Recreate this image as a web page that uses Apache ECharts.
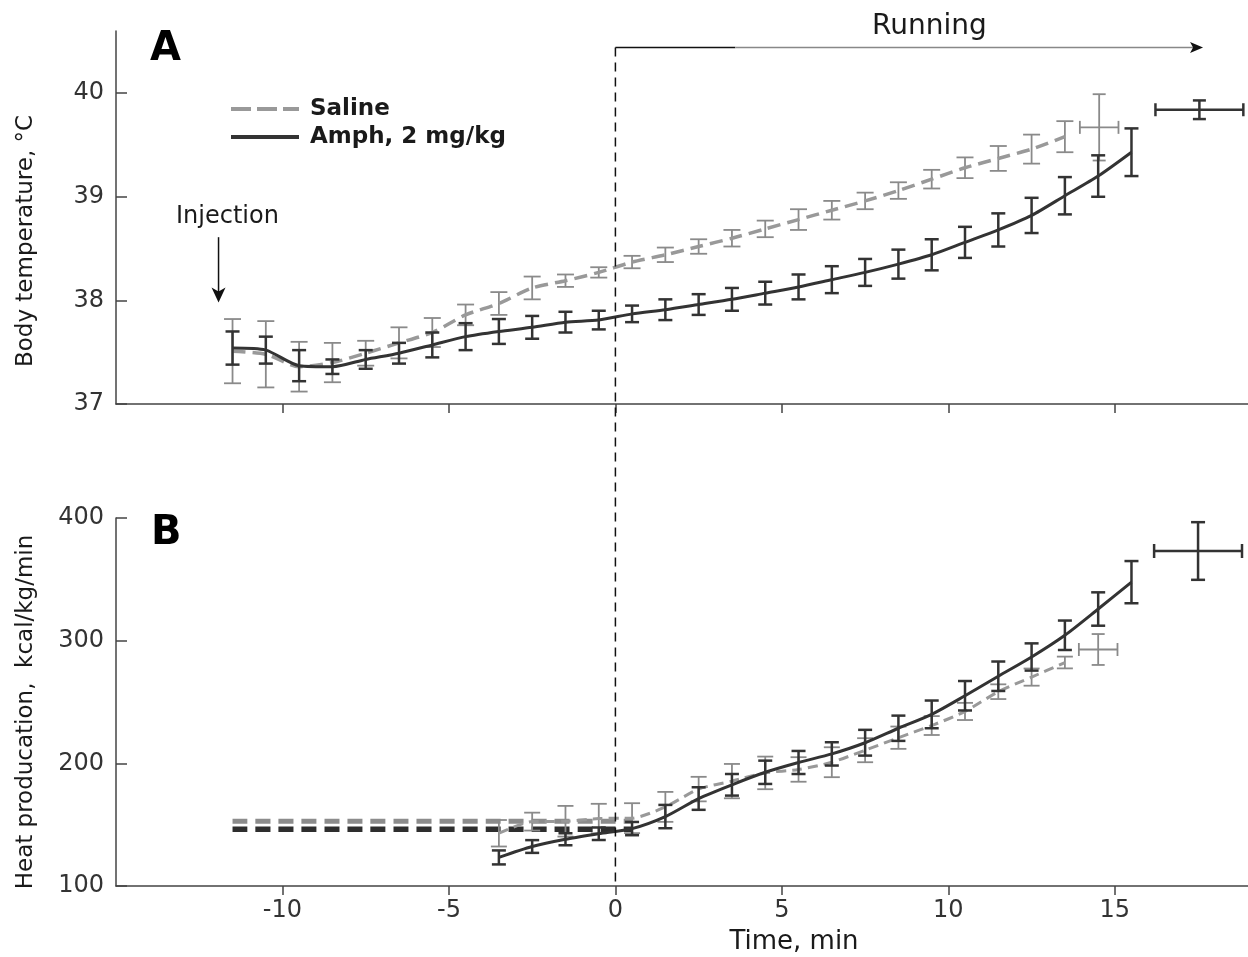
<!DOCTYPE html>
<html><head><meta charset="utf-8">
<script src="https://cdn.jsdelivr.net/npm/echarts@6/dist/echarts.min.js"></script>
<style>html,body{margin:0;padding:0;background:#fff}#c{width:1248px;height:957px}</style>
</head><body><div id="c"></div>
<script>
// ---------- data ----------
const X_TICKS = [-10, -5, 0, 5, 10, 15];
const TEMP_TICKS = [37, 38, 39, 40];
const HEAT_TICKS = [100, 200, 300, 400];

// Panel A: body temperature (°C)
const TIME_A = [-11.5,-10.5,-9.5,-8.5,-7.5,-6.5,-5.5,-4.5,-3.5,-2.5,-1.5,-0.5,0.5,1.5,2.5,3.5,4.5,5.5,6.5,7.5,8.5,9.5,10.5,11.5,12.5,13.5,14.5,15.5];
const SALINE_TEMP = [37.51,37.48,37.36,37.40,37.49,37.59,37.69,37.86,37.97,38.12,38.19,38.27,38.37,38.44,38.52,38.60,38.69,38.78,38.87,38.96,39.06,39.17,39.28,39.37,39.46,39.58];
const SALINE_TEMP_ERR = [0.31,0.32,0.24,0.19,0.12,0.15,0.14,0.10,0.11,0.11,0.06,0.05,0.06,0.07,0.07,0.08,0.08,0.10,0.09,0.08,0.08,0.09,0.10,0.12,0.14,0.15];
const AMPH_TEMP = [37.54,37.52,37.37,37.36,37.43,37.49,37.57,37.65,37.70,37.74,37.79,37.81,37.87,37.91,37.96,38.01,38.07,38.13,38.20,38.27,38.35,38.44,38.56,38.68,38.82,39.01,39.20,39.43];
const AMPH_TEMP_ERR = [0.16,0.13,0.15,0.07,0.09,0.10,0.12,0.13,0.12,0.11,0.10,0.09,0.08,0.10,0.10,0.11,0.11,0.12,0.13,0.13,0.14,0.15,0.15,0.16,0.17,0.18,0.20,0.23];
// end-of-run points: [time, value, value error, time error]
const SALINE_TEMP_END = [14.53, 39.67, 0.32, 0.58];
const AMPH_TEMP_END = [17.54, 39.84, 0.09, 1.32];

// Panel B: heat production (kcal/kg/min)
const TIME_B = [-3.5,-2.5,-1.5,-0.5,0.5,1.5,2.5,3.5,4.5,5.5,6.5,7.5,8.5,9.5,10.5,11.5,12.5,13.5,14.5,15.5];
const SALINE_HEAT = [143.0,152.5,152.8,155.0,155.3,164.5,179.0,185.5,192.2,195.0,200.9,210.7,220.9,230.8,242.3,258.4,270.3,282.2];
const SALINE_HEAT_ERR = [10.8,7.3,12.5,12.0,12.2,12.2,10.0,14.0,13.3,10.0,12.2,9.8,9.1,7.7,7.0,6.0,7.0,4.8];
const AMPH_HEAT = [123.3,132.2,138.1,142.6,146.8,156.6,171.3,182.5,192.7,200.7,207.7,216.8,228.6,239.9,255.1,271.0,286.7,304.4,325.8,347.7];
const AMPH_HEAT_ERR = [5.7,5.2,4.9,5.1,5.4,9.5,9.2,8.8,9.5,9.4,9.5,10.5,10.3,11.3,12.0,12.0,11.1,12.0,13.6,17.2];
const SALINE_HEAT_END = [14.5, 292.8, 12.6, 0.58];
const AMPH_HEAT_END = [17.5, 373.1, 23.5, 1.32];
// resting baselines
const BASELINE_TIME = [-11.5, 0.5];
const SALINE_BASELINE = 152.8;
const AMPH_BASELINE = 146.3;

// annotations (data coordinates)
const RUN_START = 0, RUN_SPLIT = 3.6, RUN_END = 17.65, RUN_LEVEL = 40.44;
const INJECTION_TIME = -11.92, INJECTION_FROM = 38.61, INJECTION_TO = 37.98;

// ---------- styling ----------
const FONT = 'DejaVu Sans';
const AXIS_COLOR = '#444';
const GRAY = '#999';
const GRAY_BAR = '#8a8a8a';
const DARK = '#333';

function errRender(color, width, capHalf) {
  return function (params, api) {
    const x = api.value(0), y = api.value(1), ey = api.value(2);
    const ex = api.value(3);
    const t = api.coord([x, y + ey]);
    const b = api.coord([x, y - ey]);
    const st = () => ({ stroke: color, lineWidth: width, fill: null });
    const ch = [
      { type: 'line', shape: { x1: t[0], y1: t[1], x2: b[0], y2: b[1] }, style: st() },
      { type: 'line', shape: { x1: t[0] - capHalf, y1: t[1], x2: t[0] + capHalf, y2: t[1] }, style: st() },
      { type: 'line', shape: { x1: b[0] - capHalf, y1: b[1], x2: b[0] + capHalf, y2: b[1] }, style: st() }
    ];
    if (ex > 0) {
      const l = api.coord([x - ex, y]);
      const r = api.coord([x + ex, y]);
      ch.push({ type: 'line', shape: { x1: l[0], y1: l[1], x2: r[0], y2: r[1] }, style: st() });
      ch.push({ type: 'line', shape: { x1: l[0], y1: l[1] - capHalf, x2: l[0], y2: l[1] + capHalf }, style: st() });
      ch.push({ type: 'line', shape: { x1: r[0], y1: r[1] - capHalf, x2: r[0], y2: r[1] + capHalf }, style: st() });
    }
    return { type: 'group', children: ch };
  };
}

function errSeries(g, data, color, width, capHalf, z) {
  return { type: 'custom', coordinateSystem: 'cartesian2d', xAxisIndex: g, yAxisIndex: g,
    renderItem: errRender(color, width, capHalf), data: data, encode: { x: 0, y: 1 }, silent: true, z: z };
}
function lineSeries(g, name, xs, ys, color, width, type, z) {
  return { type: 'line', name: name, xAxisIndex: g, yAxisIndex: g, symbol: 'none', smooth: 0.25,
    data: ys.map((v, i) => [xs[i], v]), lineStyle: { color: color, width: width, type: type },
    itemStyle: { color: color }, silent: true, z: z };
}

const xAxisBase = (g, showLabels) => ({
  gridIndex: g, type: 'value', min: -15, max: 19, interval: 5,
  axisLine: { show: true, onZero: false, lineStyle: { color: AXIS_COLOR, width: 1.5 } },
  axisTick: { show: true, inside: false, length: 9, customValues: X_TICKS, lineStyle: { color: AXIS_COLOR, width: 1.5 } },
  axisLabel: { show: showLabels, customValues: X_TICKS, margin: 13, fontFamily: FONT, fontSize: 24, color: '#333' },
  splitLine: { show: false }
});
const yAxisBase = (g, min, max, interval, ticks) => ({
  gridIndex: g, type: 'value', min: min, max: max, interval: interval,
  axisLine: { show: true, onZero: false, lineStyle: { color: AXIS_COLOR, width: 1.5 } },
  axisTick: { show: true, inside: true, length: 11, customValues: ticks, lineStyle: { color: AXIS_COLOR, width: 1.5 } },
  axisLabel: { show: true, customValues: ticks, margin: 12, fontFamily: FONT, fontSize: 24, color: '#333' },
  splitLine: { show: false }
});

const option = {
  animation: false,
  backgroundColor: '#fff',
  grid: [
    { left: 116, top: 31, width: 1141, height: 373 },
    { left: 116, top: 518, width: 1141, height: 368 }
  ],
  xAxis: [xAxisBase(0, false), xAxisBase(1, true)],
  yAxis: [yAxisBase(0, 37, 40.6, 1, TEMP_TICKS), yAxisBase(1, 100, 400, 100, HEAT_TICKS)],
  legend: {
    show: true, orient: 'vertical', left: 224, top: 92, itemWidth: 68, itemHeight: 14, itemGap: 4,
    selectedMode: false,
    itemStyle: { opacity: 0 },
    textStyle: { fontFamily: FONT, fontWeight: 'bold', fontSize: 23, color: '#1a1a1a', lineHeight: 24, padding: [0, 0, 0, 6] },
    data: [
      { name: 'Saline', itemStyle: { opacity: 0 }, lineStyle: { type: [20, 6], width: 4, color: GRAY } },
      { name: 'Amph, 2 mg/kg', itemStyle: { opacity: 0 }, lineStyle: { type: 'solid', width: 4, color: DARK } }
    ]
  },
  series: [
    // Panel A
    errSeries(0, SALINE_TEMP.map((v, i) => [TIME_A[i], v, SALINE_TEMP_ERR[i]]), GRAY_BAR, 1.8, 8.5, 2),
    lineSeries(0, 'Saline', TIME_A, SALINE_TEMP, GRAY, 3.5, [13, 7], 3),
    errSeries(0, [SALINE_TEMP_END], GRAY_BAR, 1.8, 6.5, 2),
    errSeries(0, AMPH_TEMP.map((v, i) => [TIME_A[i], v, AMPH_TEMP_ERR[i]]), DARK, 2.5, 7, 4),
    lineSeries(0, 'Amph, 2 mg/kg', TIME_A, AMPH_TEMP, DARK, 3, 'solid', 5),
    errSeries(0, [AMPH_TEMP_END], DARK, 2.5, 6.5, 4),
    // Panel B
    lineSeries(1, 'Saline baseline', BASELINE_TIME, [SALINE_BASELINE, SALINE_BASELINE], '#8c8c8c', 5, [15, 8], 1),
    lineSeries(1, 'Amph baseline', BASELINE_TIME, [AMPH_BASELINE, AMPH_BASELINE], '#2e2e2e', 5.5, [15, 8], 1),
    errSeries(1, SALINE_HEAT.map((v, i) => [TIME_B[i], v, SALINE_HEAT_ERR[i]]), GRAY_BAR, 1.8, 8, 2),
    lineSeries(1, 'Saline', TIME_B, SALINE_HEAT, GRAY, 3, [10, 6], 3),
    errSeries(1, [SALINE_HEAT_END], GRAY_BAR, 1.8, 6.5, 2),
    errSeries(1, AMPH_HEAT.map((v, i) => [TIME_B[i], v, AMPH_HEAT_ERR[i]]), DARK, 2.5, 7, 4),
    lineSeries(1, 'Amph, 2 mg/kg', TIME_B, AMPH_HEAT, DARK, 3, 'solid', 5),
    errSeries(1, [AMPH_HEAT_END], DARK, 2.5, 7, 4)
  ]
};

const chart = echarts.init(document.getElementById('c'), null, { renderer: 'canvas' });
chart.setOption(option);

const px = (g, x, y) => chart.convertToPixel({ gridIndex: g }, [x, y]);
const runA = px(0, RUN_START, RUN_LEVEL);
const runS = px(0, RUN_SPLIT, RUN_LEVEL);
const runE = px(0, RUN_END, RUN_LEVEL);
const vBot = px(1, RUN_START, HEAT_TICKS[0]);
const injA = px(0, INJECTION_TIME, INJECTION_FROM);
const injB = px(0, INJECTION_TIME, INJECTION_TO);

const txt = (text, x, y, size, opts) => Object.assign({
  type: 'text', x: x, y: y, z: 20,
  style: Object.assign({ text: text, fontFamily: FONT, fontSize: size, fill: '#1a1a1a', align: 'left', verticalAlign: 'middle' }, (opts && opts.style) || {})
}, opts && opts.el ? opts.el : {});

chart.setOption({
  graphic: [
    { type: 'line', z: 10, shape: { x1: runA[0], y1: runA[1], x2: vBot[0], y2: vBot[1] },
      style: { stroke: '#111', lineWidth: 1.5, lineDash: [9, 6] } },
    { type: 'line', z: 10, shape: { x1: runA[0], y1: runA[1], x2: runS[0], y2: runS[1] },
      style: { stroke: '#111', lineWidth: 1.5 } },
    { type: 'line', z: 10, shape: { x1: runS[0], y1: runS[1], x2: runE[0] - 10, y2: runE[1] },
      style: { stroke: '#888', lineWidth: 1.5 } },
    { type: 'polygon', z: 10, shape: { points: [[runE[0], runE[1]], [runE[0] - 13, runE[1] - 5.5], [runE[0] - 10, runE[1]], [runE[0] - 13, runE[1] + 5.5]] },
      style: { fill: '#111' } },
    { type: 'line', z: 10, shape: { x1: injA[0], y1: injA[1], x2: injB[0], y2: injB[1] - 10 },
      style: { stroke: '#111', lineWidth: 1.5 } },
    { type: 'polygon', z: 10, shape: { points: [[injB[0], injB[1]], [injB[0] - 7, injB[1] - 15], [injB[0], injB[1] - 11], [injB[0] + 7, injB[1] - 15]] },
      style: { fill: '#111' } },
    txt('A', 150, 50, 40, { style: { fontWeight: 'bold', fill: '#000' } }),
    txt('B', 151, 534, 40, { style: { fontWeight: 'bold', fill: '#000' } }),
    txt('Running', 872, 27, 28),
    txt('Injection', 176, 217, 24),
    txt('Time, min', 794, 942, 26, { style: { align: 'center' } }),
    txt('Body temperature, °C', 26, 241, 23, { style: { align: 'center' }, el: { rotation: Math.PI / 2 } }),
    txt('Heat producation,  kcal/kg/min', 26, 712, 23, { style: { align: 'center' }, el: { rotation: Math.PI / 2 } })
  ]
});
</script>
</body></html>
